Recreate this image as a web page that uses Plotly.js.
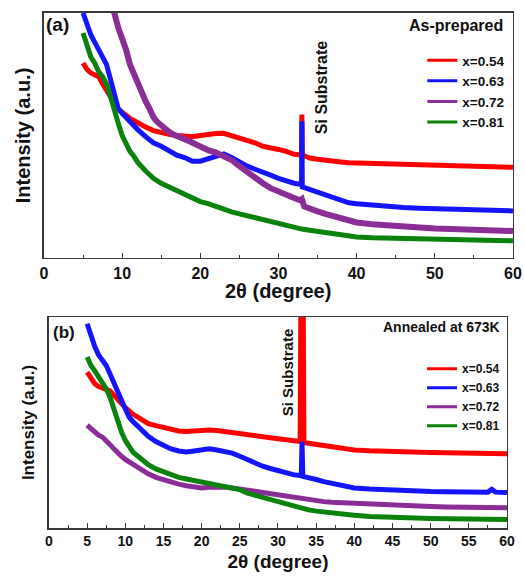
<!DOCTYPE html>
<html><head><meta charset="utf-8">
<script src="https://cdn.plot.ly/plotly-3.0.1.min.js"></script>
<style>html,body{margin:0;padding:0;background:#fff}#plot{width:525px;height:577px}</style>
</head><body><div id="plot"></div>
<script>
// ---------- Panel (a): As-prepared ----------
const aRedX = [5,5.5,6,6.5,7,7.5,8,8.5,9,9.5,10,11,12,13,14,15,16,17,18,19,20,21,22,23,24,25,26,27,28,29,30,31,32,32.95,33,33.05,33.6,34,35,36,37,38,39,40,42,44,46,48,50,52,54,56,58,60];
const aRedY = [79.6,77,75.5,74.5,74,71,68.7,66,62,60.5,59.5,57,55,53.5,52,51,50.5,50,49.5,49.5,50,50.5,50.8,50.9,50,48.8,48,47,45.6,45.2,44.3,43.5,42.3,42,58.6,42,41.3,40.8,40.3,39.8,39.5,39.2,38.9,38.8,38.5,38.2,38,37.9,37.8,37.6,37.5,37.3,37.2,37];
const aBlueX = [5,5.5,6,6.5,7,7.5,8,8.5,9,9.5,10,11,12,13,14,15,16,17,18,19,20,21,22,23,24,25,26,27,28,29,30,31,32,32.95,33,33.05,33.6,34,35,36,37,38,39,40,42,44,46,48,50,52,54,56,58,60];
const aBlueY = [100,95,91,88,85,82.5,79,73,66,61,59,55.5,52.4,49.5,47,45.6,43.6,42,41,39.5,39.5,40.5,41.5,42.5,41,39,37.5,36.2,35.2,33.8,32.5,31.3,30.5,30,55.8,29,28.4,28,26.8,25.5,24.5,23.5,22.5,22.1,21.5,21,20.6,20.3,20.1,19.9,19.7,19.5,19.3,19.2];
const aPurpleX = [5,6,7,8,8.5,9,9.5,10,10.5,11,11.5,12,12.5,13,13.5,14,14.5,15,15.5,16,16.5,17,17.5,18,19,20,21,22,23,24,25,26,27,28,29,30,31,32,32.8,33,33.3,34,35,36,37,38,39,40,42,44,46,48,50,52,54,56,58,60];
const aPurpleY = [150,135,120,108,104,100,94,90,85,79,75,71,67.5,64,61,57.5,55.5,54,52.5,51.5,50.5,50,49.3,48.5,47,45.4,44,43,41.3,40,37.5,35,33,30.5,28.5,27,25.5,24.5,23.5,24,21,20,19,18,17,16,15,14.5,13.8,13.2,12.7,12.3,12,11.8,11.6,11.4,11.2,11];
const aGreenX = [5,5.5,6,6.5,7,7.5,8,8.5,9,9.5,10,10.5,11,11.5,12,13,14,15,16,17,18,19,20,21,22,23,24,25,26,27,28,29,30,31,32,33,34,35,36,37,38,39,40,42,44,46,48,50,52,54,56,58,60];
const aGreenY = [91.8,87,82,79.5,76,74,71,66,60,55,50,46.5,43.5,41.5,39,35.5,32.5,30.5,29,27,25.9,24.5,23,22.2,21,19.6,18.8,18,17.2,16.5,15.5,14.8,14,13.2,12.3,11.8,11.3,10.8,10.3,9.8,9.3,8.8,8.6,8.3,8.1,7.8,7.6,7.5,7.4,7.3,7.2,7.1,7];

// ---------- Panel (b): Annealed at 673K ----------
const bRedX = [5,5.5,6,6.5,7,7.5,8,8.5,9,9.5,10,11,12,13,14,15,16,17,18,19,20,21,22,23,24,25,26,27,28,29,30,31,32,32.9,33,33.3,33.4,34,35,36,37,38,39,40,42,44,46,48,50,52,54,56,58,60];
const bRedY = [73.9,71,68.4,67,66.5,66,65,63,61,59,57,54,51.5,49.5,48.5,47.5,46.8,46,45.7,46,46.2,46.4,46.2,45.8,45.3,44.8,44.3,43.8,43.3,42.8,42.3,42,41.7,41,110,110,40.5,40.1,39.5,39,38.5,38,37.5,37,36.6,36.3,36.1,36,35.8,35.7,35.5,35.4,35.3,35.2];
const bBlueX = [5,5.5,6,6.5,7,7.5,8,8.5,9,9.5,10,10.5,11,12,13,14,15,16,17,18,19,20,21,22,23,24,25,26,27,28,29,30,31,32,33.05,33.15,33.25,34,35,36,37,38,39,40,42,44,46,48,50,52,54,56,57.5,58,58.5,60];
const bBlueY = [96.8,91,86,82,79.5,77,73,68.4,64,60.5,56.5,52.6,50.5,47,43.5,41,39.2,37.5,36.5,36,36.5,37,37.5,37,36.5,35.5,34,32.3,30.8,29.3,28.2,27.2,26.2,25.3,24.8,40.9,24.5,24,23,22,21.2,20.3,19.5,19,18.5,18.1,17.8,17.5,17.3,17.2,17.1,17,17,18.3,17,16.8];
const bPurpleX = [5,5.5,6,6.5,7,7.5,8,8.5,9,9.5,10,11,12,13,14,15,16,17,18,19,20,21,22,23,24,25,26,27,28,29,30,31,32,33,34,35,36,37,38,39,40,42,44,46,48,50,52,54,56,58,60];
const bPurpleY = [48.7,47,45.5,44,43.1,41.5,39.5,37.5,35.5,34,32.5,30,27.8,25.7,24,22.8,21.8,20.8,20,19.2,19,19.3,19.6,19.4,19,18.6,18,17.4,16.8,16.2,15.6,15,14.4,13.9,13.4,12.9,12.5,12.2,12,11.8,11.6,11.2,10.9,10.6,10.4,10.2,10,9.9,9.8,9.7,9.6];
const bGreenX = [5,5.5,6,6.5,7,7.5,8,8.5,9,9.5,10,10.5,11,11.5,12,13,14,15,16,17,18,19,20,21,22,23,24,25,26,27,28,29,30,31,32,33,34,35,36,37,38,39,40,42,44,46,48,50,52,54,56,58,60];
const bGreenY = [81,77,74.5,71.6,69,66,62,56,50,45.5,41.5,38.5,36,34.5,33,30,28,26.5,25.2,24,23.2,22.5,22,21.6,20.8,20,19.2,18.2,16.5,15.5,14.3,13.2,12.2,11.2,10,9.2,8.6,8,7.5,7,6.6,6.2,6,5.5,5.1,4.9,4.7,4.5,4.4,4.3,4.2,4.1,4];

const seriesNames = ['x=0.54','x=0.63','x=0.72','x=0.81'];
const colors = ['#ff0000','#1414ff','#8a2d96','#0b820b'];

const FONT = 'Liberation Sans, Arial, sans-serif';
const aData = [[aRedX,aRedY],[aBlueX,aBlueY],[aPurpleX,aPurpleY],[aGreenX,aGreenY]];
const bData = [[bRedX,bRedY],[bBlueX,bBlueY],[bPurpleX,bPurpleY],[bGreenX,bGreenY]];
const aWidths = [5,5,6,5];
const traces = [];
aData.forEach((d,i)=>traces.push({x:d[0],y:d[1],type:'scatter',mode:'lines',name:seriesNames[i],showlegend:false,
  line:{color:colors[i],width:aWidths[i]},xaxis:'x',yaxis:'y'}));
bData.forEach((d,i)=>traces.push({x:d[0],y:d[1],type:'scatter',mode:'lines',name:seriesNames[i],showlegend:false,
  line:{color:colors[i],width:5},xaxis:'x2',yaxis:'y2'}));
// legend entries (thin line keys)
seriesNames.forEach((n,i)=>traces.push({x:[null],y:[null],type:'scatter',mode:'lines',name:n,
  line:{color:colors[i],width:3},xaxis:'x',yaxis:'y',legend:'legend'}));
seriesNames.forEach((n,i)=>traces.push({x:[null],y:[null],type:'scatter',mode:'lines',name:n,
  line:{color:colors[i],width:3},xaxis:'x2',yaxis:'y2',legend:'legend2'}));

const axLine = {showline:true,mirror:true,linecolor:'#3a3a3a',linewidth:1.5,showgrid:false,zeroline:false};
const layout = {
  width:525,height:577,margin:{l:0,r:0,t:0,b:0},
  paper_bgcolor:'#fff',plot_bgcolor:'#fff',
  font:{family:FONT,color:'#111',weight:'bold'},
  xaxis:Object.assign({},axLine,{domain:[0.0838,0.977],anchor:'y',range:[0,60],dtick:10,ticks:'inside',ticklen:5,tickcolor:'#3a3a3a',
    tickfont:{size:16,family:FONT,weight:'bold'},minor:{dtick:5,ticks:'inside',ticklen:3,tickcolor:'#3a3a3a'}}),
  yaxis:Object.assign({},axLine,{domain:[0.5529,0.9775],anchor:'x',range:[0,100],showticklabels:false,ticks:'',
    title:{text:'Intensity (a.u.)',font:{size:20,family:FONT,weight:'bold'},standoff:6}}),
  xaxis2:Object.assign({},axLine,{domain:[0.0933,0.9657],anchor:'y2',range:[0,60],dtick:5,ticks:'inside',ticklen:5,tickcolor:'#3a3a3a',
    tickfont:{size:14,family:FONT,weight:'bold'},minor:{dtick:2.5,ticks:'inside',ticklen:3,tickcolor:'#3a3a3a'},
    title:{text:'2θ (degree)',font:{size:19,family:FONT,weight:'bold'},standoff:6}}),
  yaxis2:Object.assign({},axLine,{domain:[0.0849,0.4506],anchor:'x2',range:[0,100],showticklabels:false,ticks:'',
    title:{text:'Intensity (a.u.)',font:{size:17,family:FONT,weight:'bold'},standoff:8}}),
  legend:{x:0.972,xanchor:'right',y:0.922,yanchor:'top',bgcolor:'rgba(0,0,0,0)',font:{size:13.5,family:FONT,weight:'bold'},tracegroupgap:0,itemwidth:30},
  legend2:{x:0.962,xanchor:'right',y:0.386,yanchor:'top',bgcolor:'rgba(0,0,0,0)',font:{size:12,family:FONT,weight:'bold'},tracegroupgap:0,itemwidth:30},
  showlegend:true,
  annotations:[
    {text:'(a)',xref:'paper',yref:'paper',x:0.084,y:0.957,xanchor:'left',yanchor:'middle',showarrow:false,font:{size:19,family:FONT,weight:'bold'}},
    {text:'As-prepared',xref:'paper',yref:'paper',x:0.962,y:0.955,xanchor:'right',yanchor:'middle',showarrow:false,font:{size:16,family:FONT,weight:'bold'}},
    {text:'Si Substrate',xref:'x',yref:'y',x:35.6,y:69.4,textangle:-90,showarrow:false,font:{size:16,family:FONT,weight:'bold'}},
    {text:'2θ (degree)',xref:'paper',yref:'paper',x:0.53,y:0.4957,xanchor:'center',yanchor:'middle',showarrow:false,font:{size:20,family:FONT,weight:'bold'}},
    {text:'(b)',xref:'paper',yref:'paper',x:0.097,y:0.4246,xanchor:'left',yanchor:'middle',showarrow:false,font:{size:17,family:FONT,weight:'bold'}},
    {text:'Annealed at 673K',xref:'paper',yref:'paper',x:0.957,y:0.4333,xanchor:'right',yanchor:'middle',showarrow:false,font:{size:14,family:FONT,weight:'bold'}},
    {text:'Si Substrate',xref:'x2',yref:'y2',x:31.2,y:73.9,textangle:-90,showarrow:false,font:{size:15,family:FONT,weight:'bold'}}
  ]
};
Plotly.newPlot('plot',traces,layout,{staticPlot:true,displayModeBar:false});
</script></body></html>
